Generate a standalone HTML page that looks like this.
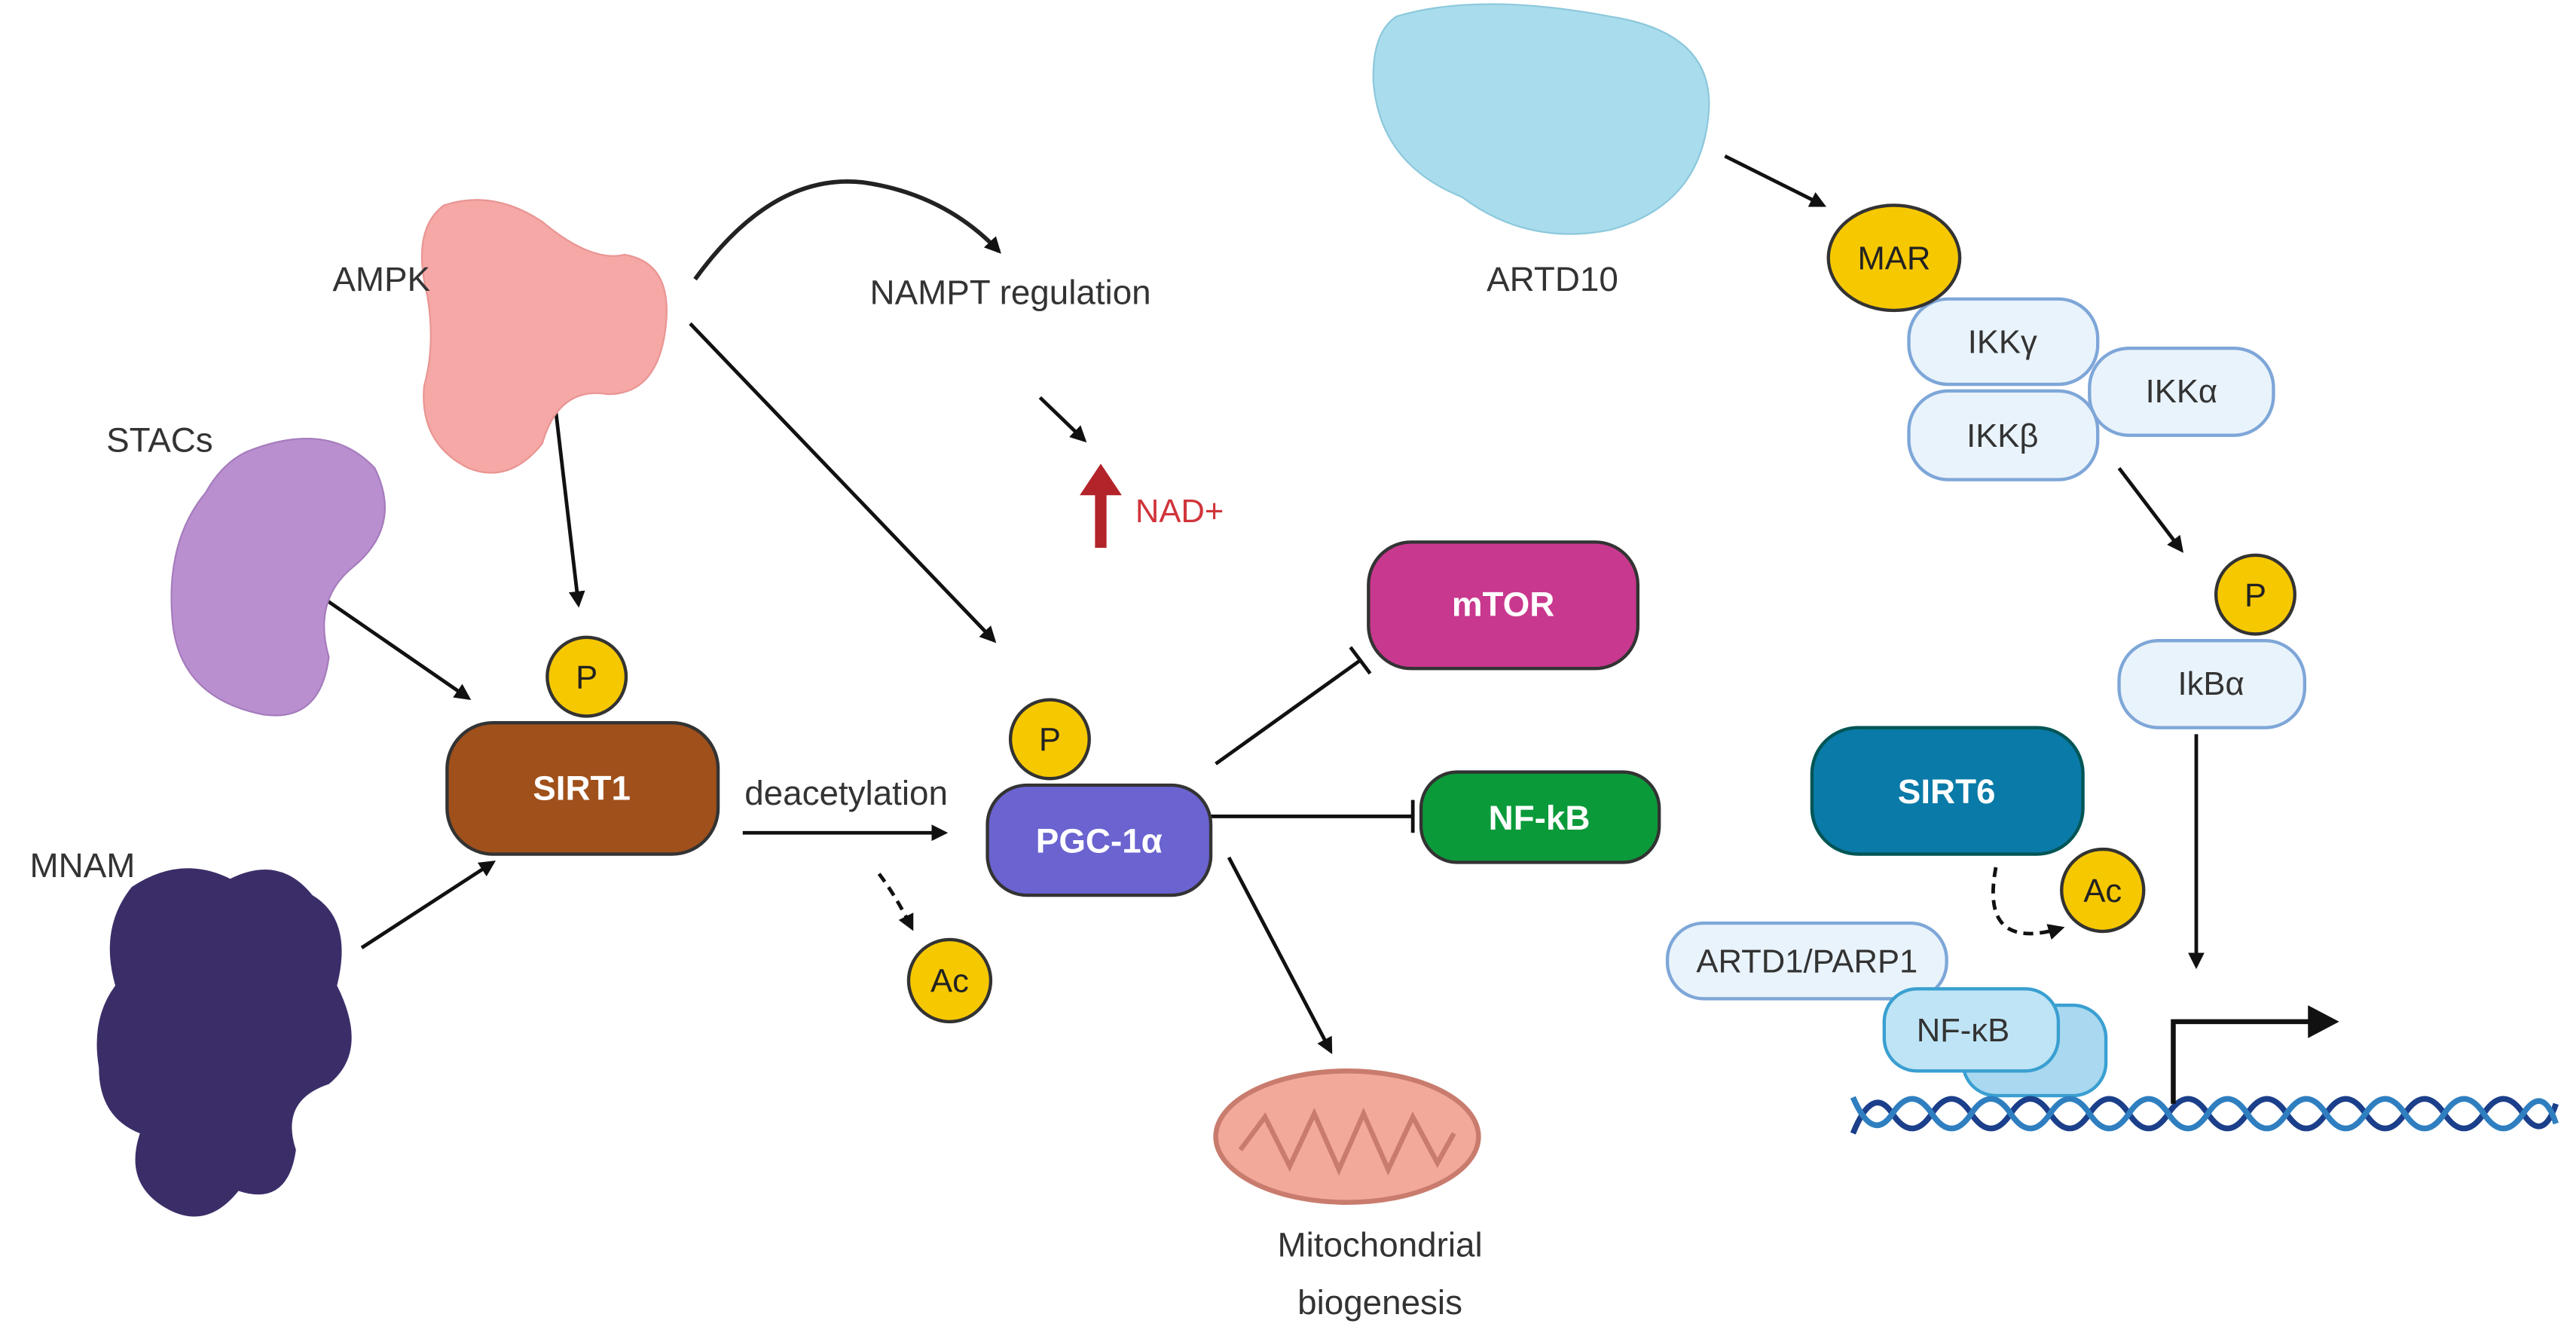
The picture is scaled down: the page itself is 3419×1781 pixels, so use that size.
<!DOCTYPE html>
<html><head><meta charset="utf-8"><style>
html,body{margin:0;padding:0;background:#fff;}
svg{display:block;}
text{font-family:"Liberation Sans",sans-serif;}
</style></head><body>
<svg width="3419" height="1781" viewBox="0 0 1568 817" xmlns="http://www.w3.org/2000/svg">
<defs>
<marker id="ah" markerWidth="10" markerHeight="10" refX="8" refY="5" orient="auto" markerUnits="userSpaceOnUse"><path d="M0,0 L10,5 L0,10 Z" fill="#111"/></marker>
</defs>
<g stroke="#111" stroke-width="2.2" fill="none" marker-end="url(#ah)">
<line x1="1050" y1="95" x2="1110" y2="125"/>
<line x1="1290" y1="285" x2="1328" y2="335"/>
<line x1="1337" y1="447" x2="1337" y2="588"/>
<line x1="337" y1="240" x2="352" y2="368"/>
<line x1="198" y1="365" x2="285" y2="425"/>
<line x1="220" y1="577" x2="300" y2="525"/>
<line x1="452" y1="507" x2="575" y2="507"/>
<line x1="420" y1="197" x2="605" y2="390"/>
<line x1="633" y1="242" x2="660" y2="268"/>
<line x1="748" y1="522" x2="810" y2="640"/>
<path d="M423,170 Q470,105 525,111 Q575,118 608,153" stroke="#222" stroke-width="2.6"/>
<path d="M535,532 Q545,545 555,565" stroke-dasharray="6,4"/>
<path d="M1215,528 Q1205,580 1255,565" stroke-dasharray="6,4"/>
</g>
<g stroke="#111" stroke-width="2.2">
<line x1="740" y1="465" x2="828" y2="402"/><line x1="822" y1="394" x2="834" y2="410"/>
<line x1="737" y1="497" x2="860" y2="497"/><line x1="860" y1="487" x2="860" y2="507"/>
</g>
<path d="M850,10 Q900,-5 980,10 Q1045,20 1040,70 Q1035,125 980,140 Q930,150 890,120 Q840,100 836,50 Q835,20 850,10Z" fill="#a9dcec" stroke="#8cc8dc"/>
<path d="M270,125 Q300,115 330,135 Q360,160 380,155 Q410,160 405,200 Q400,240 370,240 Q340,235 330,270 Q310,295 285,285 Q255,270 258,235 Q265,210 260,180 Q250,140 270,125Z" fill="#f5a8a6" stroke="#e99593"/>
<path d="M150,275 Q200,255 228,285 Q245,320 215,345 Q190,365 200,400 Q195,440 160,435 Q110,425 105,380 Q100,330 125,300 Q135,282 150,275Z" fill="#b98fcf" stroke="#a57cbc"/>
<path d="M80,540 Q110,520 140,535 Q170,520 190,545 Q215,560 205,600 Q225,640 200,660 Q170,670 180,700 Q175,735 145,725 Q125,750 100,735 Q75,720 85,690 Q60,680 60,650 Q55,620 70,600 Q60,565 80,540Z" fill="#3b2e68"/>
<ellipse cx="820" cy="692" rx="80" ry="40" fill="#f2a99a" stroke="#c97c6e" stroke-width="3"/>
<path d="M755,700 L770,680 L785,710 L800,678 L815,712 L830,678 L845,712 L860,680 L875,708 L885,690" fill="none" stroke="#c97c6e" stroke-width="3"/>
<g font-size="21" fill="#333" text-anchor="middle">
<text x="945" y="177">ARTD10</text>
<text x="232" y="177">AMPK</text>
<text x="97" y="275">STACs</text>
<text x="50" y="534">MNAM</text>
<text x="615" y="185">NAMPT regulation</text>
<text x="515" y="490">deacetylation</text>
<text x="840" y="765">Mitochondrial</text>
<text x="840" y="800">biogenesis</text>
</g>
<path d="M668,332 L668,300 L660,300 L670,285 L680,300 L672,300 L672,332Z" fill="#b3232a" stroke="#b3232a" stroke-width="3"/>
<text x="718" y="318" font-size="20" fill="#d0353b" text-anchor="middle">NAD+</text>
<g stroke="#333" stroke-width="2">
<rect x="272" y="440" width="165" height="80" rx="28" fill="#a0501b"/>
<rect x="601" y="478" width="136" height="67" rx="24" fill="#6a63d0"/>
<rect x="833" y="330" width="164" height="77" rx="26" fill="#c8388e"/>
<rect x="865" y="470" width="145" height="55" rx="22" fill="#0b9a3a"/>
<rect x="1103" y="443" width="165" height="77" rx="28" fill="#0a7aa8" stroke="#055"/>
</g>
<g font-size="21" font-weight="bold" fill="#fff" text-anchor="middle">
<text x="354" y="487">SIRT1</text>
<text x="669" y="519">PGC-1α</text>
<text x="915" y="375">mTOR</text>
<text x="937" y="505">NF-kB</text>
<text x="1185" y="489">SIRT6</text>
</g>
<g stroke="#7ea6d8" stroke-width="2" fill="#e9f3fb">
<rect x="1272" y="212" width="112" height="53" rx="24"/>
<rect x="1162" y="182" width="115" height="52" rx="24"/>
<rect x="1162" y="238" width="115" height="54" rx="24"/>
<rect x="1290" y="390" width="113" height="53" rx="24"/>
<rect x="1015" y="562" width="170" height="46" rx="22"/>
</g>
<rect x="1195" y="612" width="87" height="55" rx="20" fill="#a9d8f0" stroke="#3a9fd1" stroke-width="2"/>
<rect x="1147" y="602" width="106" height="50" rx="20" fill="#bfe4f5" stroke="#3a9fd1" stroke-width="2"/>
<g font-size="20" fill="#333" text-anchor="middle">
<text x="1219" y="215">IKKγ</text>
<text x="1328" y="245">IKKα</text>
<text x="1219" y="272">IKKβ</text>
<text x="1346" y="423">IkBα</text>
<text x="1100" y="592">ARTD1/PARP1</text>
<text x="1195" y="634">NF-κB</text>
</g>
<g fill="#f6c800" stroke="#333" stroke-width="2">
<ellipse cx="1153" cy="157" rx="40" ry="32"/>
<circle cx="1373" cy="362" r="24"/>
<circle cx="1280" cy="542" r="25"/>
<circle cx="357" cy="412" r="24"/>
<circle cx="639" cy="450" r="24"/>
<circle cx="578" cy="597" r="25"/>
</g>
<g font-size="20" fill="#222" text-anchor="middle">
<text x="1153" y="164">MAR</text>
<text x="1373" y="369">P</text>
<text x="1280" y="549">Ac</text>
<text x="357" y="419">P</text>
<text x="639" y="457">P</text>
<text x="578" y="604">Ac</text>
</g>
<path d="M1128,690 Q1140,660 1152,678 T1176,678 T1200,678 T1224,678 T1248,678 T1272,678 T1296,678 T1320,678 T1344,678 T1368,678 T1392,678 T1416,678 T1440,678 T1464,678 T1488,678 T1512,678 T1536,678 T1556,672" fill="none" stroke="#1b3f8a" stroke-width="3.5"/>
<path d="M1128,668 Q1140,696 1152,678 T1176,678 T1200,678 T1224,678 T1248,678 T1272,678 T1296,678 T1320,678 T1344,678 T1368,678 T1392,678 T1416,678 T1440,678 T1464,678 T1488,678 T1512,678 T1536,678 T1556,684" fill="none" stroke="#2f7fc0" stroke-width="3.5"/>
<path d="M1323,672 L1323,622 L1408,622" fill="none" stroke="#111" stroke-width="3"/>
<path d="M1405,612 L1424,622 L1405,632Z" fill="#111"/>
</svg>
</body></html>
